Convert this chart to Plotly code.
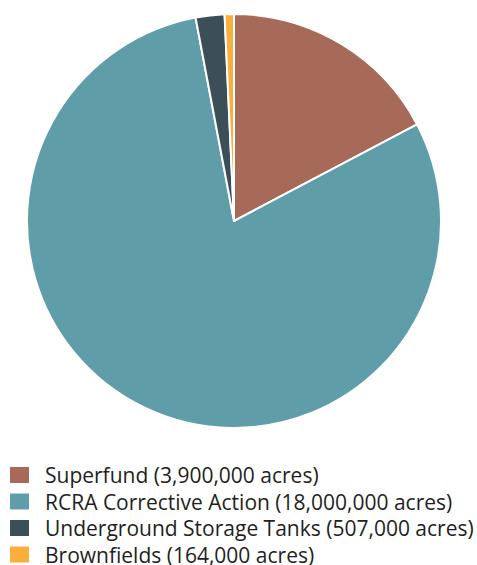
import plotly.graph_objects as go

labels = ["Superfund (3,900,000 acres)", "RCRA Corrective Action (18,000,000 acres)",
          "Underground Storage Tanks (507,000 acres)", "Brownfields (164,000 acres)"]
values = [3900000, 18000000, 507000, 164000]
colors = ["#A76A58", "#5F9EA8", "#3C4E58", "#F9AE3E"]

W, H = 477, 565
fig = go.Figure(go.Pie(
    labels=labels, values=values, sort=False, direction="clockwise", rotation=0,
    textinfo="none", hoverinfo="label+percent", showlegend=False,
    marker=dict(colors=colors, line=dict(color="white", width=2)),
    domain=dict(x=[27/W, 441/W], y=[1-428/H, 1-14/H]),
))

# custom legend (layout positions in pixels -> paper coords)
row0, gap = 475, 26.5
for i, (lab, col) in enumerate(zip(labels, colors)):
    yc = row0 + i * gap
    fig.add_shape(type="rect", xref="paper", yref="paper",
                  x0=10/W, x1=29/W, y0=1-(yc+8)/H, y1=1-(yc-8)/H,
                  fillcolor=col, line=dict(width=0))
    fig.add_annotation(text=lab, xref="paper", yref="paper", x=43/W, y=1-yc/H,
                       xanchor="left", yanchor="middle", showarrow=False,
                       font=dict(size=21, color="#231F20"))

fig.update_layout(
    width=W, height=H, margin=dict(l=0, r=0, t=0, b=0),
    paper_bgcolor="white", plot_bgcolor="white",
    font=dict(family="Open Sans, Noto Sans, sans-serif", color="#231F20"),
    showlegend=False,
)
fig.write_html("out.html", config={"displayModeBar": False},
               post_script="document.body.style.margin='0';")
